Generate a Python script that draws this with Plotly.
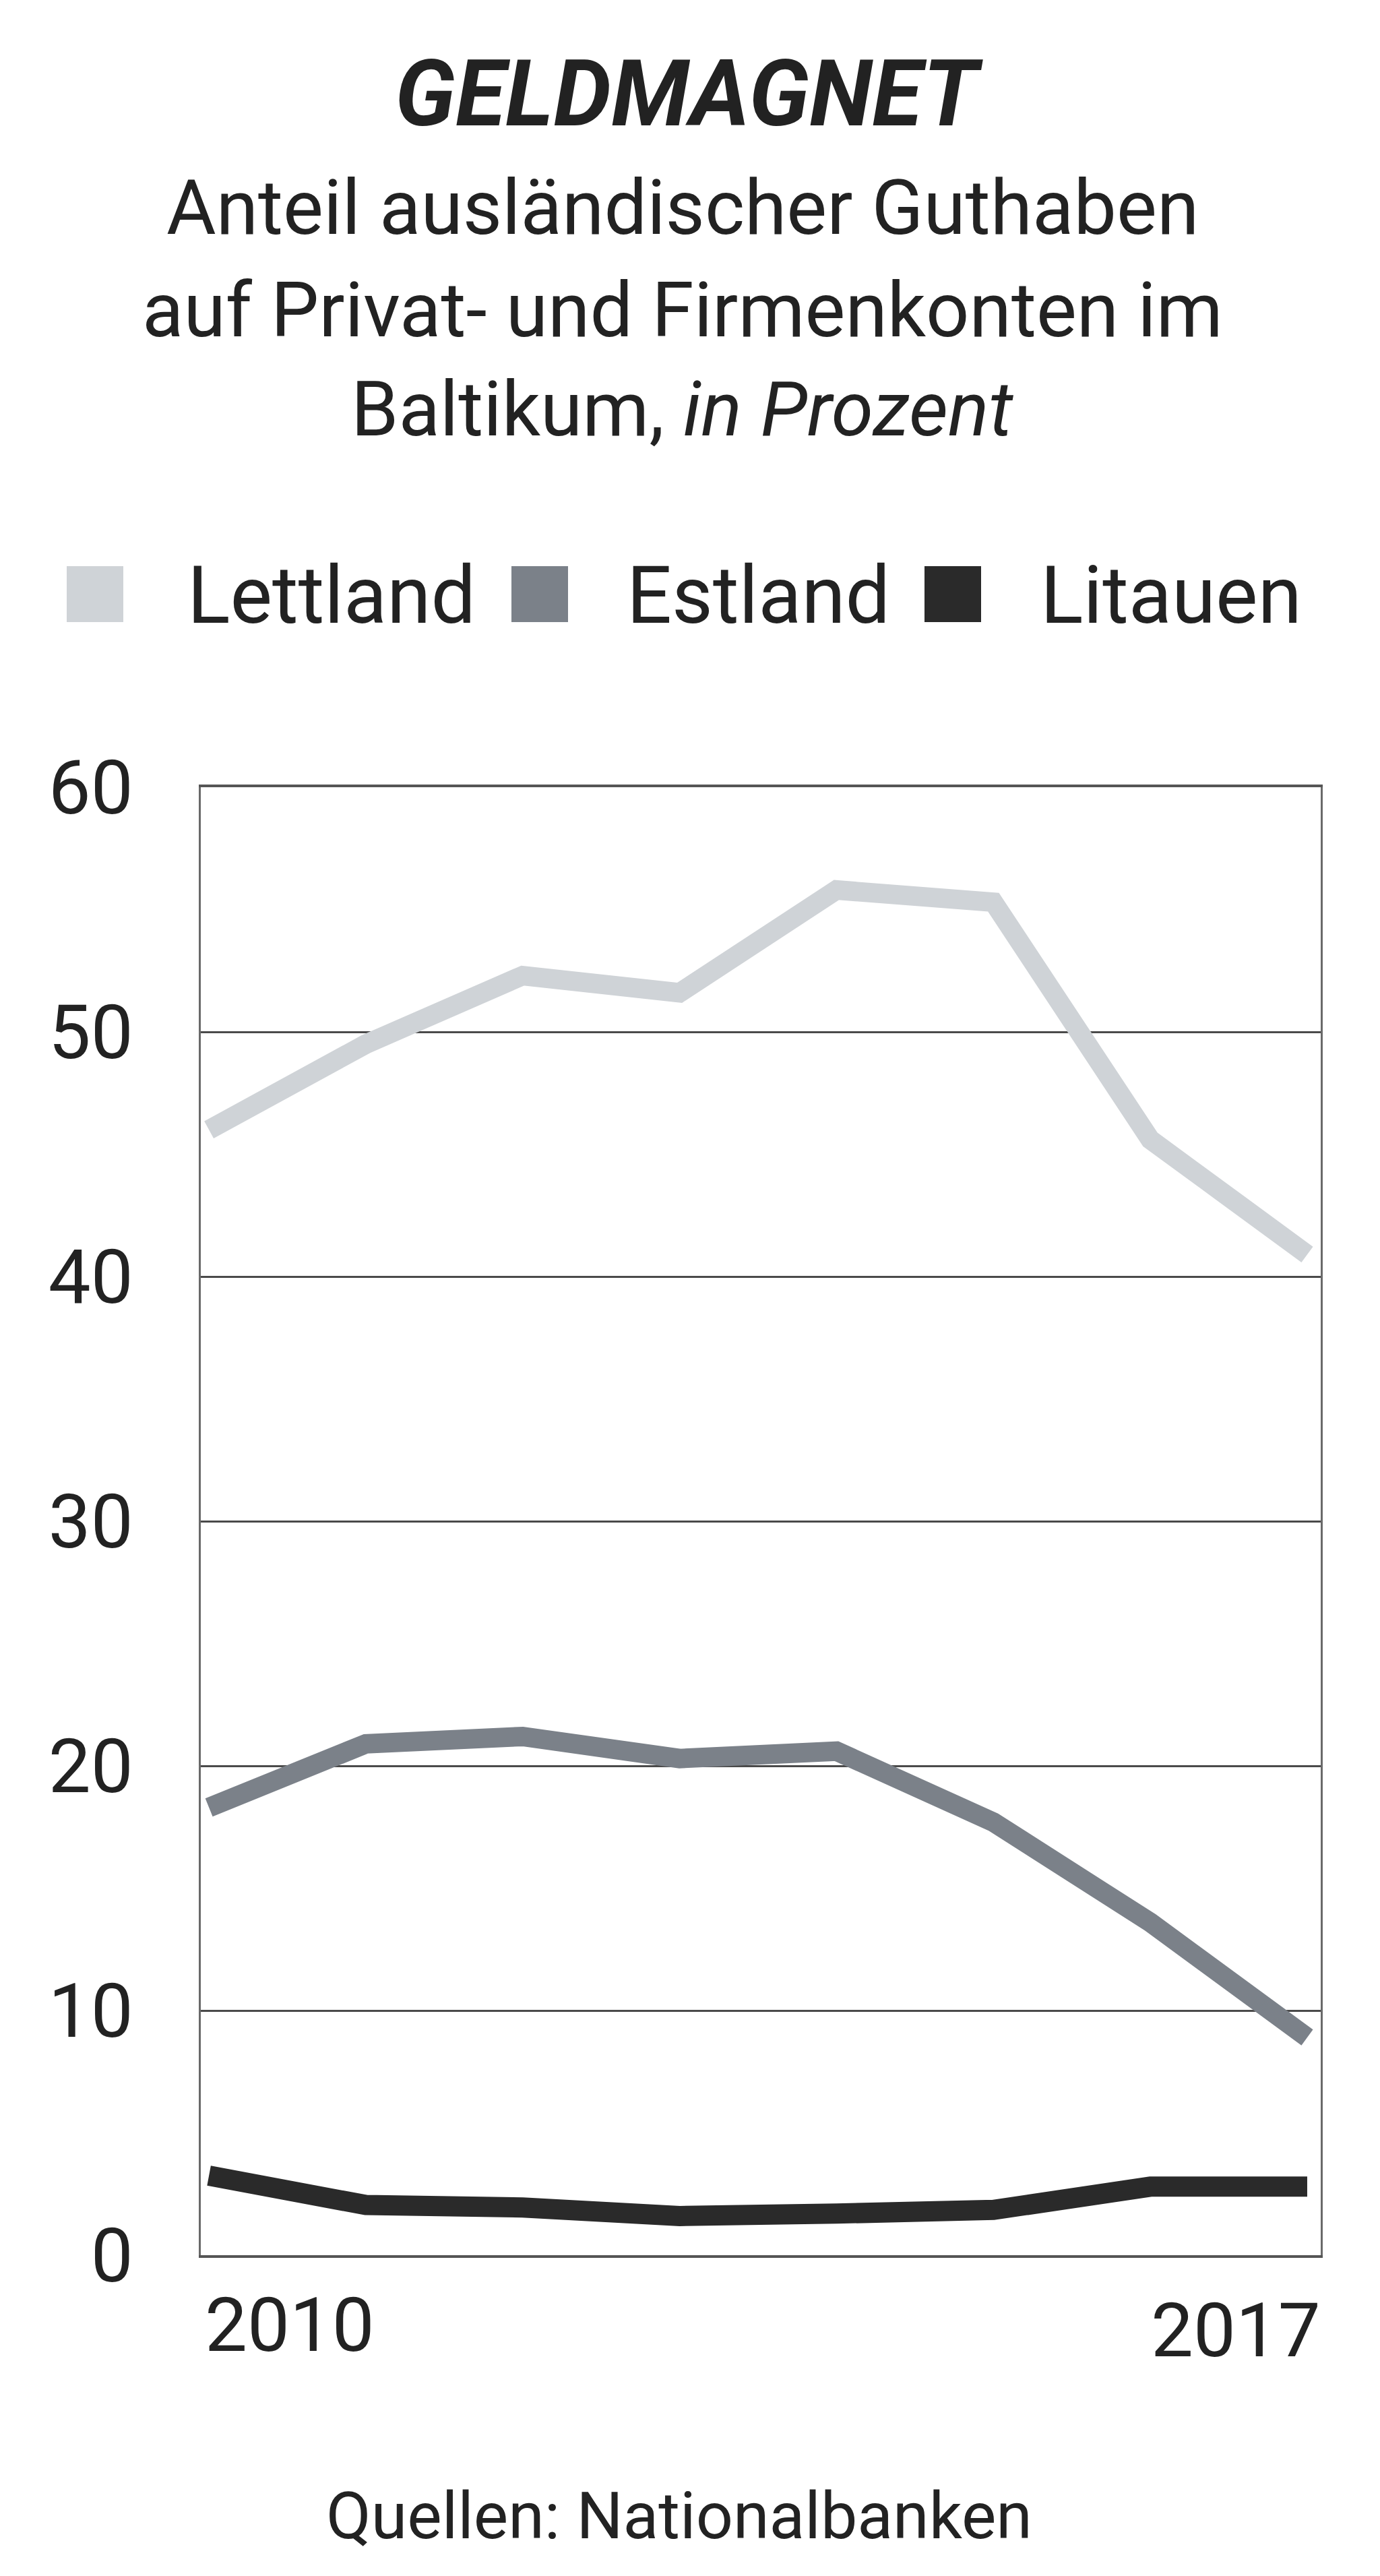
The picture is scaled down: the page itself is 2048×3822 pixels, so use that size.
import plotly.graph_objects as go

years = [2010, 2011, 2012, 2013, 2014, 2015, 2016, 2017]
lettland = [46.0, 49.5, 52.3, 51.6, 55.8, 55.3, 45.6, 40.9]
estland = [18.3, 20.9, 21.2, 20.3, 20.6, 17.7, 13.6, 8.9]
litauen = [3.25, 2.05, 1.95, 1.6, 1.7, 1.85, 2.8, 2.8]

series_names = ["Lettland", "Estland", "Litauen"]
series_colors = ["#cfd3d7", "#7b8189", "#2a2a2a"]
series_widths = [29, 29, 30]
y_ticks = [0, 10, 20, 30, 40, 50, 60]

W, H = 2048, 3822
PL, PR, PT, PB = 290, 1952, 1160, 3338
FONT = "Roboto, 'Noto Sans', sans-serif"
TITLE_FONT = "Roboto, sans-serif"


def px_x(px):
    return (px - PL) / (PR - PL)


def px_y(py):
    return (PB - py) / (PB - PT)


fig = go.Figure()
for name, vals, col, w in zip(series_names, [lettland, estland, litauen], series_colors, series_widths):
    fig.add_trace(go.Scatter(x=years, y=vals, mode="lines", name=name,
                             line=dict(color=col, width=w), showlegend=False,
                             cliponaxis=False))

annotations = []
# Title
annotations.append(dict(text="<b><i>GELDMAGNET</i></b>", x=px_x(1015), y=px_y(131),
                        xref="paper", yref="paper", xanchor="center", yanchor="middle",
                        showarrow=False, font=dict(family=TITLE_FONT, size=136, color="#222222")))
# Subtitle lines
for txt, cy in [("Anteil ausländischer Guthaben", 300),
                ("auf Privat- und Firmenkonten im", 453),
                ("Baltikum, <i>in Prozent</i>", 600)]:
    annotations.append(dict(text=txt, x=px_x(1005), y=px_y(cy), xref="paper", yref="paper",
                            xanchor="center", yanchor="middle", showarrow=False,
                            font=dict(family=FONT, size=113, color="#222222")))

# Legend (squares + labels)
shapes = []
leg_sq_x = [91, 751, 1364]
leg_txt_x = [268, 920, 1534]
for name, col, sx, tx in zip(series_names, series_colors, leg_sq_x, leg_txt_x):
    shapes.append(dict(type="rect", xref="paper", yref="paper",
                       x0=px_x(sx), x1=px_x(sx + 84), y0=px_y(915), y1=px_y(832),
                       fillcolor=col, line=dict(width=0)))
    annotations.append(dict(text=name, x=px_x(tx), y=px_y(876), xref="paper", yref="paper",
                            xanchor="left", yanchor="middle", showarrow=False,
                            font=dict(family=FONT, size=118, color="#222222")))

# X labels
annotations.append(dict(text=str(years[0]), x=px_x(294), y=px_y(3441), xref="paper", yref="paper",
                        xanchor="left", yanchor="middle", showarrow=False,
                        font=dict(family=FONT, size=112, color="#222222")))
annotations.append(dict(text=str(years[-1]), x=px_x(1954), y=px_y(3449), xref="paper", yref="paper",
                        xanchor="right", yanchor="middle", showarrow=False,
                        font=dict(family=FONT, size=112, color="#222222")))
# Source
annotations.append(dict(text="Quellen: Nationalbanken", x=px_x(1000), y=px_y(3725),
                        xref="paper", yref="paper", xanchor="center", yanchor="middle",
                        showarrow=False, font=dict(family=FONT, size=97, color="#222222")))

fig.update_layout(
    width=W, height=H,
    margin=dict(l=PL, r=W - PR, t=PT, b=H - PB, pad=0),
    paper_bgcolor="white", plot_bgcolor="white",
    showlegend=False,
    annotations=annotations,
    shapes=shapes,
    xaxis=dict(range=[2009.948, 2017.086], showgrid=False, zeroline=False,
               showticklabels=False, ticks="", showline=True, mirror=True,
               linecolor="#555555", linewidth=4),
    yaxis=dict(range=[0, 60], tickvals=y_ticks, showgrid=True, gridcolor="#4a4a4a",
               gridwidth=3, zeroline=False, showline=True, mirror=True,
               linecolor="#6a6a6a", linewidth=3, ticks="", ticklabelstandoff=75,
               tickfont=dict(family=FONT, size=112, color="#222222")),
)

fig.write_html("out.html")
